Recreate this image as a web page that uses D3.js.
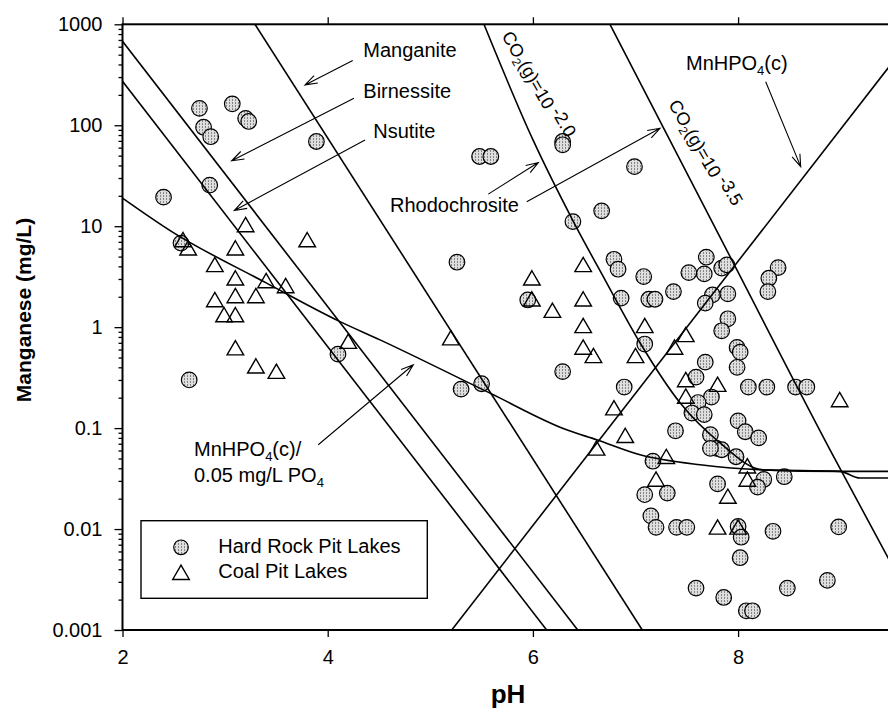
<!DOCTYPE html>
<html lang="en">
<head>
<meta charset="utf-8">
<script src="https://d3js.org/d3.v7.min.js"></script>
<style>
  body { margin: 0; background: #fff; }
  svg { font-family: "Liberation Sans", Arial, sans-serif; background: #fff; }
  .frame { fill: none; stroke: #000; stroke-width: 2; }
  .curve { fill: none; stroke: #000; stroke-width: 1.6; }
  .arrow { fill: none; stroke: #000; stroke-width: 1.1; }
  .label { font-size: 20px; fill: #000; }
  .hard { stroke: #000; stroke-width: 1.2; fill: url(#stipple); }
  .coal { stroke: #000; stroke-width: 1.4; fill: none; }
  .tick text { font-size: 20px; fill: #000; font-family: "Liberation Sans", Arial, sans-serif; }
  .tick line { stroke: #000; stroke-width: 1.3; }
</style>
</head>
<body>
<svg width="888" height="712" id="chart"></svg>
<script>
  // ---- data (pH, Mn mg/L) ----
  const hardRock = [
    [2.40, 19.4], [2.75, 147], [3.07, 163], [3.20, 117], [3.23, 109], [2.79, 95.5],
    [2.86, 77], [2.85, 25.5], [2.57, 6.8], [2.65, 0.30], [3.89, 69], [4.10, 0.54],
    [5.48, 49], [5.59, 49], [6.29, 69], [6.29, 64], [6.39, 11.1], [6.67, 14.2],
    [6.99, 38.9], [5.26, 4.4], [6.79, 4.7], [6.83, 3.75], [7.08, 3.17], [7.37, 2.25],
    [6.86, 1.94], [5.95, 1.86], [7.13, 1.89], [7.19, 1.89], [7.09, 0.68], [6.29, 0.363],
    [6.89, 0.255], [5.30, 0.243], [5.50, 0.275], [7.39, 0.094], [7.69, 4.93], [7.52, 3.47],
    [7.67, 3.37], [7.84, 3.84], [7.89, 4.14], [7.75, 2.09], [7.90, 2.14], [7.68, 1.73],
    [8.39, 3.89], [8.30, 3.05], [8.29, 2.25], [7.90, 1.21], [7.84, 0.92], [7.99, 0.63],
    [8.02, 0.565], [7.68, 0.45], [7.99, 0.40], [7.59, 0.32], [8.10, 0.255], [8.28, 0.255],
    [8.56, 0.255], [8.67, 0.255], [7.74, 0.203], [7.61, 0.179], [7.55, 0.141], [7.67, 0.136],
    [8.00, 0.118], [8.07, 0.092], [8.20, 0.080], [7.73, 0.086], [7.79, 0.063], [7.84, 0.061],
    [7.73, 0.063], [7.98, 0.052], [7.17, 0.047], [8.25, 0.031], [8.19, 0.026], [8.45, 0.033],
    [7.80, 0.028], [7.09, 0.0219], [7.31, 0.0227], [7.15, 0.0135], [7.20, 0.0104], [7.40, 0.0104],
    [7.50, 0.0104], [8.00, 0.0106], [8.03, 0.0083], [8.34, 0.0095], [8.98, 0.0105], [8.02, 0.0052],
    [7.59, 0.0026], [7.86, 0.0021], [8.48, 0.0026], [8.87, 0.0031], [8.08, 0.00155], [8.14, 0.00155]
  ];

  const coal = [
    [3.20, 10.3], [2.59, 7.3], [2.64, 6.05], [3.10, 6.05], [3.80, 7.3], [2.90, 4.14],
    [3.10, 3.05], [3.40, 2.87], [3.59, 2.56], [2.90, 1.86], [3.10, 2.04], [3.30, 2.04],
    [2.99, 1.32], [3.10, 1.32], [3.10, 0.62], [3.30, 0.41], [3.50, 0.363], [4.20, 0.72],
    [6.49, 4.14], [5.99, 3.05], [5.99, 1.89], [6.19, 1.46], [6.49, 1.89], [6.49, 1.03],
    [7.09, 1.03], [6.49, 0.63], [6.59, 0.52], [7.00, 0.52], [5.20, 0.78], [6.79, 0.158],
    [6.90, 0.084], [6.62, 0.063], [7.38, 0.63], [7.49, 0.30], [7.49, 0.84], [7.80, 0.27],
    [7.49, 0.206], [8.99, 0.19], [7.30, 0.052], [8.09, 0.042], [7.20, 0.031], [8.09, 0.031],
    [7.90, 0.021], [7.80, 0.0104], [8.00, 0.0104]
  ];

  // stability lines
  const birnessiteLine = [[2.0, 679], [6.437, 0.001]];
  const nsutiteLine = [[2.0, 273], [6.134, 0.001]];
  const manganiteLine = [[3.291, 1000], [7.066, 0.001]];
  const mnhpo4Line = [[5.209, 0.001], [9.793, 1000]];
  const co2Low = [[6.751, 1000], [7.889, 5.8], [8.896, 0.061], [9.461, 0.0052], [9.77, 0.00132]];
  const co2High = [[5.523, 1000], [6.001, 71.5], [6.391, 11.3], [6.703, 2.94], [7.044, 0.70],
    [7.434, 0.178], [7.824, 0.0714], [8.243, 0.0386], [8.993, 0.0373], [9.8, 0.0373]];
  const phosphateCurve = [[2.0, 19.0], [2.48, 8.85], [3.405, 2.73], [4.12, 1.135], [4.51, 0.748],
    [5.582, 0.222], [6.329, 0.0962], [6.622, 0.0766], [7.044, 0.0544], [7.629, 0.0433],
    [8.243, 0.0386], [8.993, 0.0373], [9.188, 0.032], [9.8, 0.032]];

  const xTicks = [2, 4, 6, 8, 10];
  const xTickLabels = ["2", "4", "6", "8", ""];
  const yTicks = [0.001, 0.01, 0.1, 1, 10, 100, 1000];
  const yTickLabels = ["0.001", "0.01", "0.1", "1", "10", "100", "1000"];

  const svg = d3.select("#chart");
  const x = d3.scaleLinear().domain([2, 10]).range([122.5, 943.3]);
  const y = d3.scaleLog().domain([0.001, 1000]).range([630, 24.3]);

  const defs = svg.append("defs");
  const pat = defs.append("pattern").attr("id", "stipple")
    .attr("width", 3).attr("height", 3).attr("patternUnits", "userSpaceOnUse");
  pat.append("rect").attr("width", 3).attr("height", 3).attr("fill", "#dedede");
  pat.append("rect").attr("x", 1).attr("y", 0).attr("width", 1).attr("height", 2).attr("fill", "#868686");
  defs.append("clipPath").attr("id", "plotclip").append("rect")
    .attr("x", x(2)).attr("y", y(1000)).attr("width", x(10) - x(2)).attr("height", y(0.001) - y(1000));

  // axes
  const yMinor = y.ticks().filter(d => !yTicks.some(t => Math.abs(t - d) / t < 1e-6));
  svg.append("g").attr("transform", `translate(${x(2)},0)`)
    .call(d3.axisLeft(y).tickValues(yMinor).tickFormat("").tickSize(4))
    .call(g => g.select(".domain").remove());
  svg.append("g").attr("transform", `translate(${x(2)},0)`)
    .call(d3.axisLeft(y).tickValues(yTicks).tickFormat((d, i) => yTickLabels[i]).tickSize(8).tickPadding(12))
    .call(g => g.select(".domain").remove());
  svg.append("g").attr("transform", `translate(0,${y(0.001)})`)
    .call(d3.axisBottom(x).tickValues(xTicks).tickFormat((d, i) => xTickLabels[i]).tickSize(7).tickPadding(13))
    .call(g => g.select(".domain").remove());
  svg.append("g").attr("transform", `translate(0,${y(1000)})`)
    .call(d3.axisTop(x).tickValues(xTicks).tickFormat("").tickSize(7))
    .call(g => g.select(".domain").remove());
  svg.selectAll(".tick text").attr("font-size", null).attr("font-family", null);

  // points
  const plot = svg.append("g").attr("clip-path", "url(#plotclip)");
  plot.selectAll("circle.hard").data(hardRock).join("circle")
    .attr("class", "hard").attr("r", 7.8)
    .attr("cx", d => x(d[0])).attr("cy", d => y(d[1]));

  const tri = "M0,-7.5L8.3,6.8L-8.3,6.8Z";

  // lines
  const line = d3.line().x(d => x(d[0])).y(d => y(d[1]));
  const smooth = d3.line().x(d => x(d[0])).y(d => y(d[1])).curve(d3.curveMonotoneX);
  [birnessiteLine, nsutiteLine, manganiteLine, mnhpo4Line].forEach(l =>
    plot.append("path").attr("class", "curve").attr("d", line(l)));
  [co2Low, co2High, phosphateCurve].forEach(l =>
    plot.append("path").attr("class", "curve").attr("d", smooth(l)));

  plot.selectAll("path.coal").data(coal).join("path")
    .attr("class", "coal").attr("d", tri)
    .attr("transform", d => `translate(${x(d[0])},${y(d[1])})`);

  // frame
  svg.append("rect").attr("class", "frame")
    .attr("x", x(2)).attr("y", y(1000)).attr("width", x(10) - x(2)).attr("height", y(0.001) - y(1000));

  // annotations
  function arrow(from, to) {
    const x0 = x(from[0]), y0 = y(from[1]), x1 = x(to[0]), y1 = y(to[1]);
    const a = Math.atan2(y1 - y0, x1 - x0), len = 13, sp = 0.33;
    const h1 = [x1 - len * Math.cos(a - sp), y1 - len * Math.sin(a - sp)];
    const h2 = [x1 - len * Math.cos(a + sp), y1 - len * Math.sin(a + sp)];
    svg.append("path").attr("class", "arrow")
      .attr("d", `M${x0},${y0}L${x1},${y1}M${h1}L${x1},${y1}L${h2}`);
  }
  function label(pos, txt) {
    return svg.append("text").attr("class", "label").attr("x", x(pos[0])).attr("y", y(pos[1])).text(txt);
  }

  label([4.347, 470], "Manganite");
  arrow([4.244, 437], [3.779, 251]);
  label([4.347, 188], "Birnessite");
  arrow([4.256, 185], [3.064, 44.4]);
  label([4.444, 75.5], "Nsutite");
  arrow([4.364, 71.5], [3.09, 14.3]);
  label([4.607, 13.7], "Rhodochrosite");
  arrow([5.565, 20.8], [6.053, 42.7]);
  arrow([5.94, 17.5], [7.239, 93.3]);

  const mh = label([7.492, 353], "MnHPO");
  mh.append("tspan").attr("font-size", 13).attr("dy", 5).text("4");
  mh.append("tspan").attr("dy", -5).text("(c)");
  arrow([8.269, 270], [8.61, 38.9]);

  const p1 = label([2.697, 0.0532], "MnHPO");
  p1.append("tspan").attr("font-size", 13).attr("dy", 5).text("4");
  p1.append("tspan").attr("dy", -5).text("(c)/");
  const p2 = label([2.697, 0.029], "0.05 mg/L PO");
  p2.append("tspan").attr("font-size", 13).attr("dy", 5).text("4");
  arrow([3.908, 0.0684], [4.834, 0.424]);

  function co2Label(pos, exp) {
    const t = svg.append("text").attr("font-size", 18)
      .attr("transform", `translate(${x(pos[0])},${y(pos[1])}) rotate(60)`);
    t.append("tspan").text("CO");
    t.append("tspan").attr("font-size", 12).attr("dy", 4).text("2");
    t.append("tspan").attr("dy", -4).text("(g)=10");
    t.append("tspan").attr("dy", -5).attr("dx", 4).text(exp);
  }
  co2Label([5.692, 768], "-2.0");
  co2Label([7.317, 161], "-3.5");

  // legend
  const lg = svg.append("g");
  lg.append("rect").attr("x", 141).attr("y", 520.7).attr("width", 286.3).attr("height", 77.6)
    .attr("fill", "#fff").attr("stroke", "#000").attr("stroke-width", 1.4);
  lg.append("circle").attr("class", "hard").attr("cx", 181).attr("cy", 547.3).attr("r", 7.3);
  lg.append("path").attr("class", "coal").attr("d", tri).attr("transform", "translate(181,572.7)");
  lg.append("text").attr("class", "label").attr("x", 218.3).attr("y", 552.7).text("Hard Rock Pit Lakes");
  lg.append("text").attr("class", "label").attr("x", 218.3).attr("y", 577.7).text("Coal Pit Lakes");

  // axis titles
  svg.append("text").attr("font-size", 26).attr("font-weight", "bold").attr("text-anchor", "middle")
    .attr("x", 508).attr("y", 703).text("pH");
  svg.append("text").attr("font-size", 21).attr("font-weight", "bold").attr("text-anchor", "middle")
    .attr("transform", "translate(31,310) rotate(-90)").text("Manganese (mg/L)");
</script>
</body>
</html>
